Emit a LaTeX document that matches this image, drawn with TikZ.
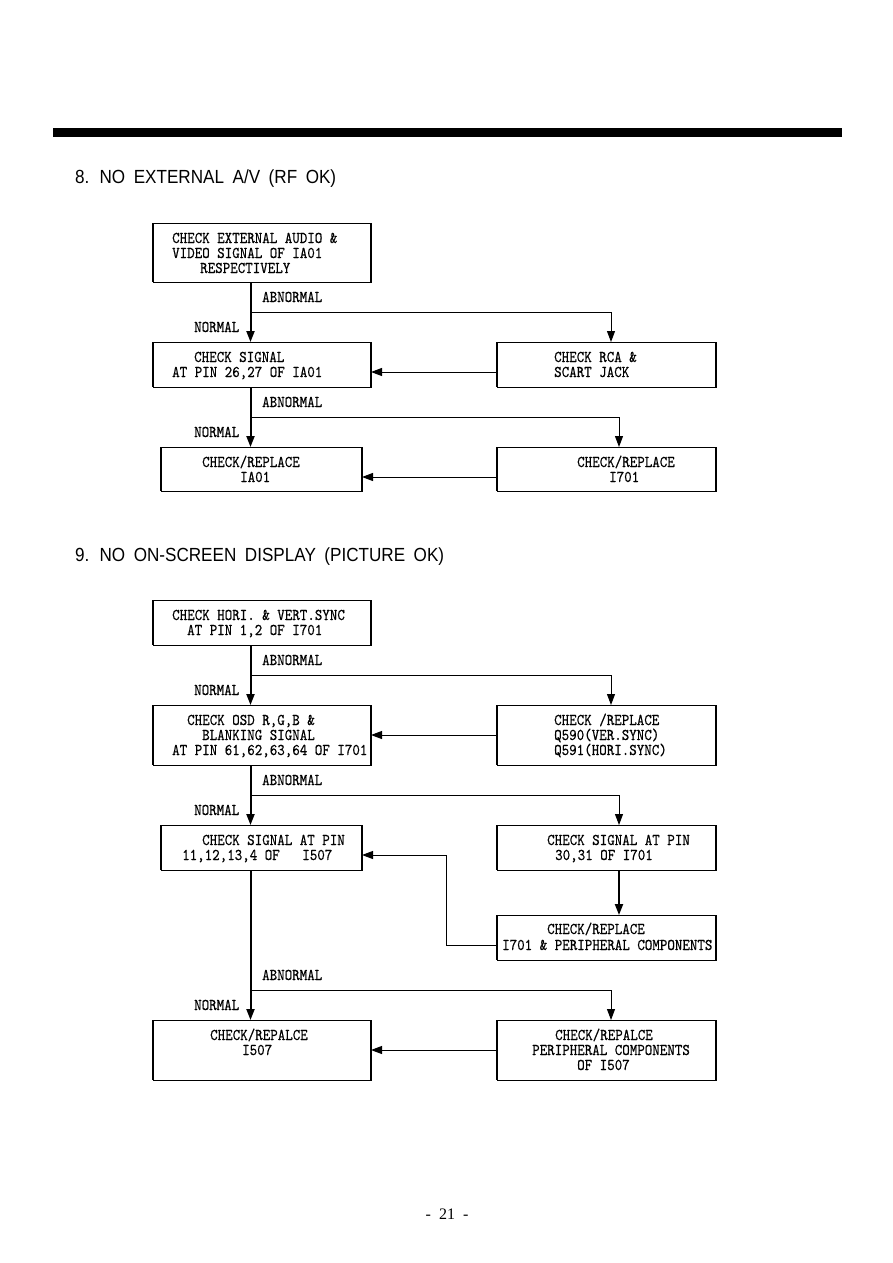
\documentclass[tikz,border=0pt]{standalone}
\usepackage{fontspec}
\setmainfont{Liberation Serif}
\newfontfamily\ttlfont{Liberation Sans}
\newfontfamily\monof{lmmono10-regular.otf}[FakeBold=0.5]
\usetikzlibrary{arrows.meta}
\newcommand\mtx[1]{\scalebox{1}[1.15]{#1}}
\newcommand\ttltext[1]{\scalebox{0.9}[1]{\spaceskip=0.5em #1}}
\tikzset{
  box/.style={draw, line width=0.9pt, inner sep=0pt, outer sep=0pt},
  tl/.style={anchor=base west, inner sep=0pt, font=\fontsize{14.3}{17}\monof},
  trunk/.style={line width=2pt, -{Triangle[length=11pt,width=8pt]}},
  arr/.style={line width=1pt, -{Triangle[length=11pt,width=8pt]}},
  ttl/.style={anchor=base west, inner sep=0pt, font=\fontsize{19}{22}\ttlfont},
}
\begin{document}
\begin{tikzpicture}[x=1pt,y=-1pt]
\useasboundingbox (0,0) rectangle (893,1263);
\fill (53,128) rectangle (842,136.5);
\node[ttl] (title8) at (75,183) {\ttltext{8. NO EXTERNAL A/V (RF OK)}};
\node[ttl] (title9) at (75,561) {\ttltext{9. NO ON-SCREEN DISPLAY (PICTURE OK)}};
\node[anchor=base, inner sep=0pt, font=\fontsize{16}{18}\selectfont] (pg) at (447,1219) {-\ \ 21\ \ -};

% boxes
\node[box, minimum width=218pt, minimum height=59pt] (A) at (262,252.5) {};
\node[box, minimum width=218pt, minimum height=45pt] (B) at (262,364.5) {};
\node[box, minimum width=219pt, minimum height=45pt] (C) at (606.5,364.5) {};
\node[box, minimum width=201pt, minimum height=44pt] (D) at (261.5,469) {};
\node[box, minimum width=219pt, minimum height=44pt] (E) at (606.5,469) {};
\node[box, minimum width=218pt, minimum height=45pt] (F) at (262,622.5) {};
\node[box, minimum width=218pt, minimum height=60pt] (G) at (262,735) {};
\node[box, minimum width=219pt, minimum height=60pt] (H) at (606.5,735) {};
\node[box, minimum width=201pt, minimum height=45pt] (I) at (261.5,847.5) {};
\node[box, minimum width=219pt, minimum height=45pt] (J) at (606.5,847.5) {};
\node[box, minimum width=219pt, minimum height=45pt] (K) at (606.5,937.5) {};
\node[box, minimum width=218pt, minimum height=60pt] (L) at (262,1050) {};
\node[box, minimum width=219pt, minimum height=60pt] (M) at (606.5,1050) {};
\foreach \n in {A,B,C,D,E,F,G,H,I,J,K,L,M}{
  \draw[line width=1.9pt] (\n.north east) -- (\n.south east);
  \draw[line width=1.4pt] (\n.north west) -- (\n.south west);
}

% box texts
\node[tl] (a1) at (172,243) {\mtx{CHECK EXTERNAL AUDIO \&}};
\node[tl] (a2) at (172,258) {\mtx{VIDEO SIGNAL OF IA01}};
\node[tl] (a3) at (200,273) {\mtx{RESPECTIVELY}};
\node[tl] (b1) at (194,362) {\mtx{CHECK SIGNAL}};
\node[tl] (b2) at (172,377) {\mtx{AT PIN 26,27 OF IA01}};
\node[tl] (c1) at (554,362) {\mtx{CHECK RCA \&}};
\node[tl] (c2) at (554,377) {\mtx{SCART JACK}};
\node[tl] (d1) at (202,467) {\mtx{CHECK/REPLACE}};
\node[tl] (d2) at (240,482) {\mtx{IA01}};
\node[tl] (e1) at (577,467) {\mtx{CHECK/REPLACE}};
\node[tl] (e2) at (609,482) {\mtx{I701}};
\node[tl] (f1) at (172,620) {\mtx{CHECK HORI. \& VERT.SYNC}};
\node[tl] (f2) at (187,635) {\mtx{AT PIN 1,2 OF I701}};
\node[tl] (g1) at (187,725) {\mtx{CHECK OSD R,G,B \&}};
\node[tl] (g2) at (202,740) {\mtx{BLANKING SIGNAL}};
\node[tl] (g3) at (172,755) {\mtx{AT PIN 61,62,63,64 OF I701}};
\node[tl] (h1) at (554,725) {\mtx{CHECK /REPLACE}};
\node[tl] (h2) at (554,740) {\mtx{Q590(VER.SYNC)}};
\node[tl] (h3) at (554,755) {\mtx{Q591(HORI.SYNC)}};
\node[tl] (i1) at (202,845) {\mtx{CHECK SIGNAL AT PIN}};
\node[tl] (i2) at (182,860) {\mtx{11,12,13,4 OF~~~I507}};
\node[tl] (j1) at (547,845) {\mtx{CHECK SIGNAL AT PIN}};
\node[tl] (j2) at (555,860) {\mtx{30,31 OF I701}};
\node[tl] (k1) at (547,934) {\mtx{CHECK/REPLACE}};
\node[tl] (k2) at (502,950) {\mtx{I701 \& PERIPHERAL COMPONENTS}};
\node[tl] (l1) at (210,1040) {\mtx{CHECK/REPALCE}};
\node[tl] (l2) at (242,1055) {\mtx{I507}};
\node[tl] (m1) at (555,1040) {\mtx{CHECK/REPALCE}};
\node[tl] (m2) at (532,1055) {\mtx{PERIPHERAL COMPONENTS}};
\node[tl] (m3) at (577,1070) {\mtx{OF I507}};

% branch labels
\node[tl] (ab1) at (262,302) {\mtx{ABNORMAL}};
\node[tl] (no1) at (194,332) {\mtx{NORMAL}};
\node[tl] (ab2) at (262,407) {\mtx{ABNORMAL}};
\node[tl] (no2) at (194,437) {\mtx{NORMAL}};
\node[tl] (ab3) at (262,665) {\mtx{ABNORMAL}};
\node[tl] (no3) at (194,695) {\mtx{NORMAL}};
\node[tl] (ab4) at (262,785) {\mtx{ABNORMAL}};
\node[tl] (no4) at (194,815) {\mtx{NORMAL}};
\node[tl] (ab5) at (262,980) {\mtx{ABNORMAL}};
\node[tl] (no5) at (194,1010) {\mtx{NORMAL}};

% helper coordinates
\coordinate (xm) at (250.5,0);
\coordinate (xr1) at (611,0);
\coordinate (xr2) at (619,0);
\coordinate (yb1) at (0,312);
\coordinate (yb2) at (0,417);
\coordinate (yb3) at (0,675);
\coordinate (yb4) at (0,795);
\coordinate (yb5) at (0,990);
\coordinate (yh1) at (0,372);
\coordinate (yh2) at (0,477);
\coordinate (yh3) at (0,735);
\coordinate (yh4) at (0,855);
\coordinate (yh5) at (0,945);
\coordinate (yh6) at (0,1050);
\coordinate (kx) at (446,0);

% trunk connectors
\draw[trunk] (xm |- A.south) -- (xm |- B.north);
\draw[trunk] (xm |- B.south) -- (xm |- D.north);
\draw[trunk] (xm |- F.south) -- (xm |- G.north);
\draw[trunk] (xm |- G.south) -- (xm |- I.north);
\draw[trunk] (xm |- I.south) -- (xm |- L.north);

% abnormal branches
\draw[arr] (xm |- yb1) -| (xr1 |- C.north);
\draw[arr] (xm |- yb2) -| (xr2 |- E.north);
\draw[arr] (xm |- yb3) -| (xr1 |- H.north);
\draw[arr] (xm |- yb4) -| (xr2 |- J.north);
\draw[arr] (xm |- yb5) -| (xr1 |- M.north);
\draw[trunk] (xr2 |- J.south) -- (xr2 |- K.north);

% return arrows
\draw[arr] (C.west |- yh1) -- (B.east |- yh1);
\draw[arr] (E.west |- yh2) -- (D.east |- yh2);
\draw[arr] (H.west |- yh3) -- (G.east |- yh3);
\draw[arr] (K.west |- yh5) -- (kx |- yh5) -- (kx |- yh4) -- (I.east |- yh4);
\draw[arr] (M.west |- yh6) -- (L.east |- yh6);
\end{tikzpicture}
\end{document}
